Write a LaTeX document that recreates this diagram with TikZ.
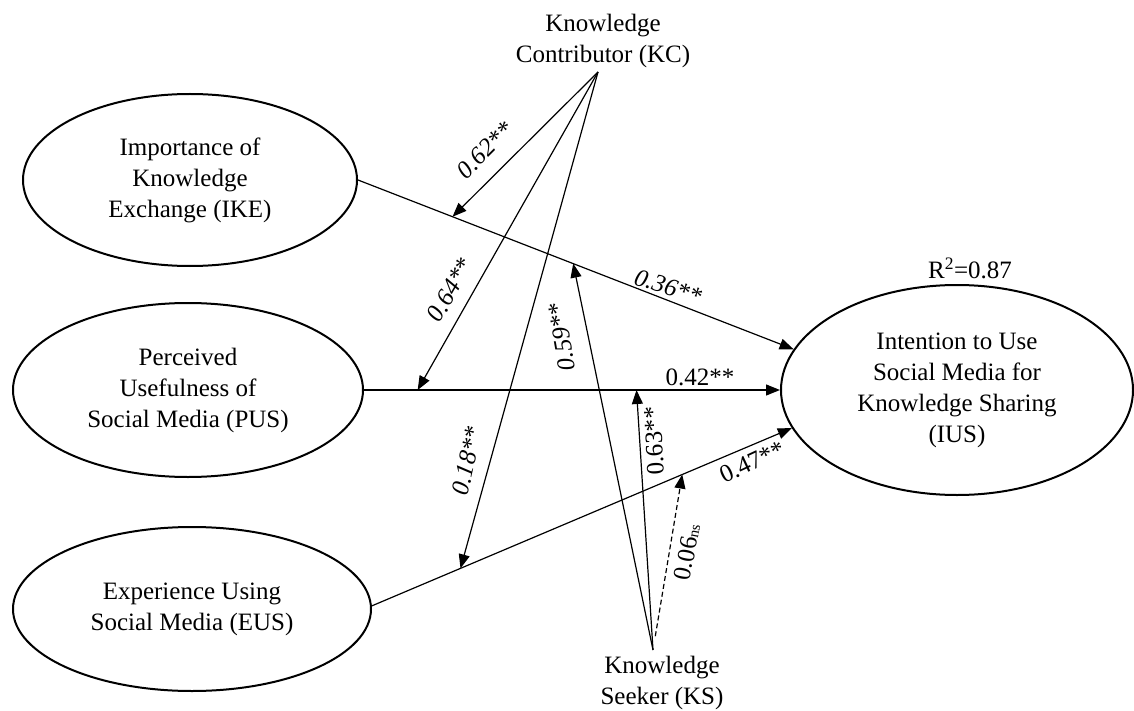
\documentclass[tikz,border=0pt]{standalone}
\usepackage{fontspec}
\setmainfont{Liberation Serif}
\usetikzlibrary{shapes.geometric,arrows.meta}
\begin{document}
\begin{tikzpicture}[x=1pt,y=-1pt,
  every node/.style={font=\fontsize{25}{31}\selectfont},
  construct/.style={ellipse, draw, line width=2pt, align=center, inner sep=0pt},
  plain/.style={align=center},
  arr/.style={line width=1.2pt, -{Triangle[length=14pt,width=11pt]}},
  lbl/.style={inner sep=1pt},
  ilbl/.style={inner sep=1pt, font=\fontsize{25}{31}\selectfont\itshape},
]
\fill[white] (0,0) rectangle (1134,711);
\useasboundingbox (0,0) rectangle (1134,711);

% constructs
\node[construct, minimum width=334pt, minimum height=172pt] (IKE) at (190,180) {Importance of\\Knowledge\\Exchange (IKE)};
\node[construct, minimum width=350pt, minimum height=174pt] (PUS) at (188,390) {Perceived\\Usefulness of\\Social Media (PUS)};
\node[construct, minimum width=358pt, minimum height=164pt] (EUS) at (192,609) {\raisebox{9pt}{\begin{tabular}{@{}c@{}}Experience Using\\Social Media (EUS)\end{tabular}}};
\node[construct, minimum width=352pt, minimum height=210pt] (IUS) at (957,390) {Intention to Use\\Social Media for\\Knowledge Sharing\\(IUS)};
\node[plain] (R2) at (970,268) {R\textsuperscript{2}=0.87};

% moderators
\node[plain, anchor=south, inner sep=4pt] (KC) at (603,72) {Knowledge\\Contributor (KC)};
\node[plain, anchor=north, inner sep=6pt] (KS) at (662,650) {Knowledge\\Seeker (KS)};

% direct paths
\draw[arr] (IKE.east) -- coordinate[pos=0.217] (t62) coordinate[pos=0.494] (t59) (IUS.166);
\draw[arr] (PUS.east) -- coordinate[pos=0.129] (t64) coordinate[pos=0.655] (t63) (IUS.west);
\draw[arr] (EUS.1) -- coordinate[pos=0.211] (t18) coordinate[pos=0.739] (t06) (IUS.193);

% moderating paths
\draw[arr] ([xshift=-5pt]KC.south) -- (t62);
\draw[arr] ([xshift=-5pt]KC.south) -- (t64);
\draw[arr] ([xshift=-5pt]KC.south) -- (t18);
\draw[arr] ([xshift=-9pt]KS.north) -- (t59);
\draw[arr] ([xshift=-9pt]KS.north) -- (t63);
\draw[arr, dash pattern=on 5pt off 3pt, shorten <=14pt] ([xshift=-9pt]KS.north) -- (t06);

% labels
\node[ilbl, rotate=45] (L62) at (485,150) {0.62**};
\node[ilbl, rotate=60] (L64) at (450,290) {0.64**};
\node[ilbl, rotate=100] (L59) at (562,337) {0.59**};
\node[lbl, rotate=93] (L63) at (654,441) {0.63**};
\node[ilbl, rotate=77] (L18) at (467,461) {0.18**};
\node[lbl, rotate=79] (L06) at (687,552) {0.06{\fontsize{15}{18}\selectfont ns}};
\node[ilbl, rotate=-18] (L36) at (668,287) {0.36**};
\node[lbl] (L42) at (700,377) {0.42**};
\node[lbl, rotate=25] (L47) at (752,462) {0.47**};
\end{tikzpicture}
\end{document}
